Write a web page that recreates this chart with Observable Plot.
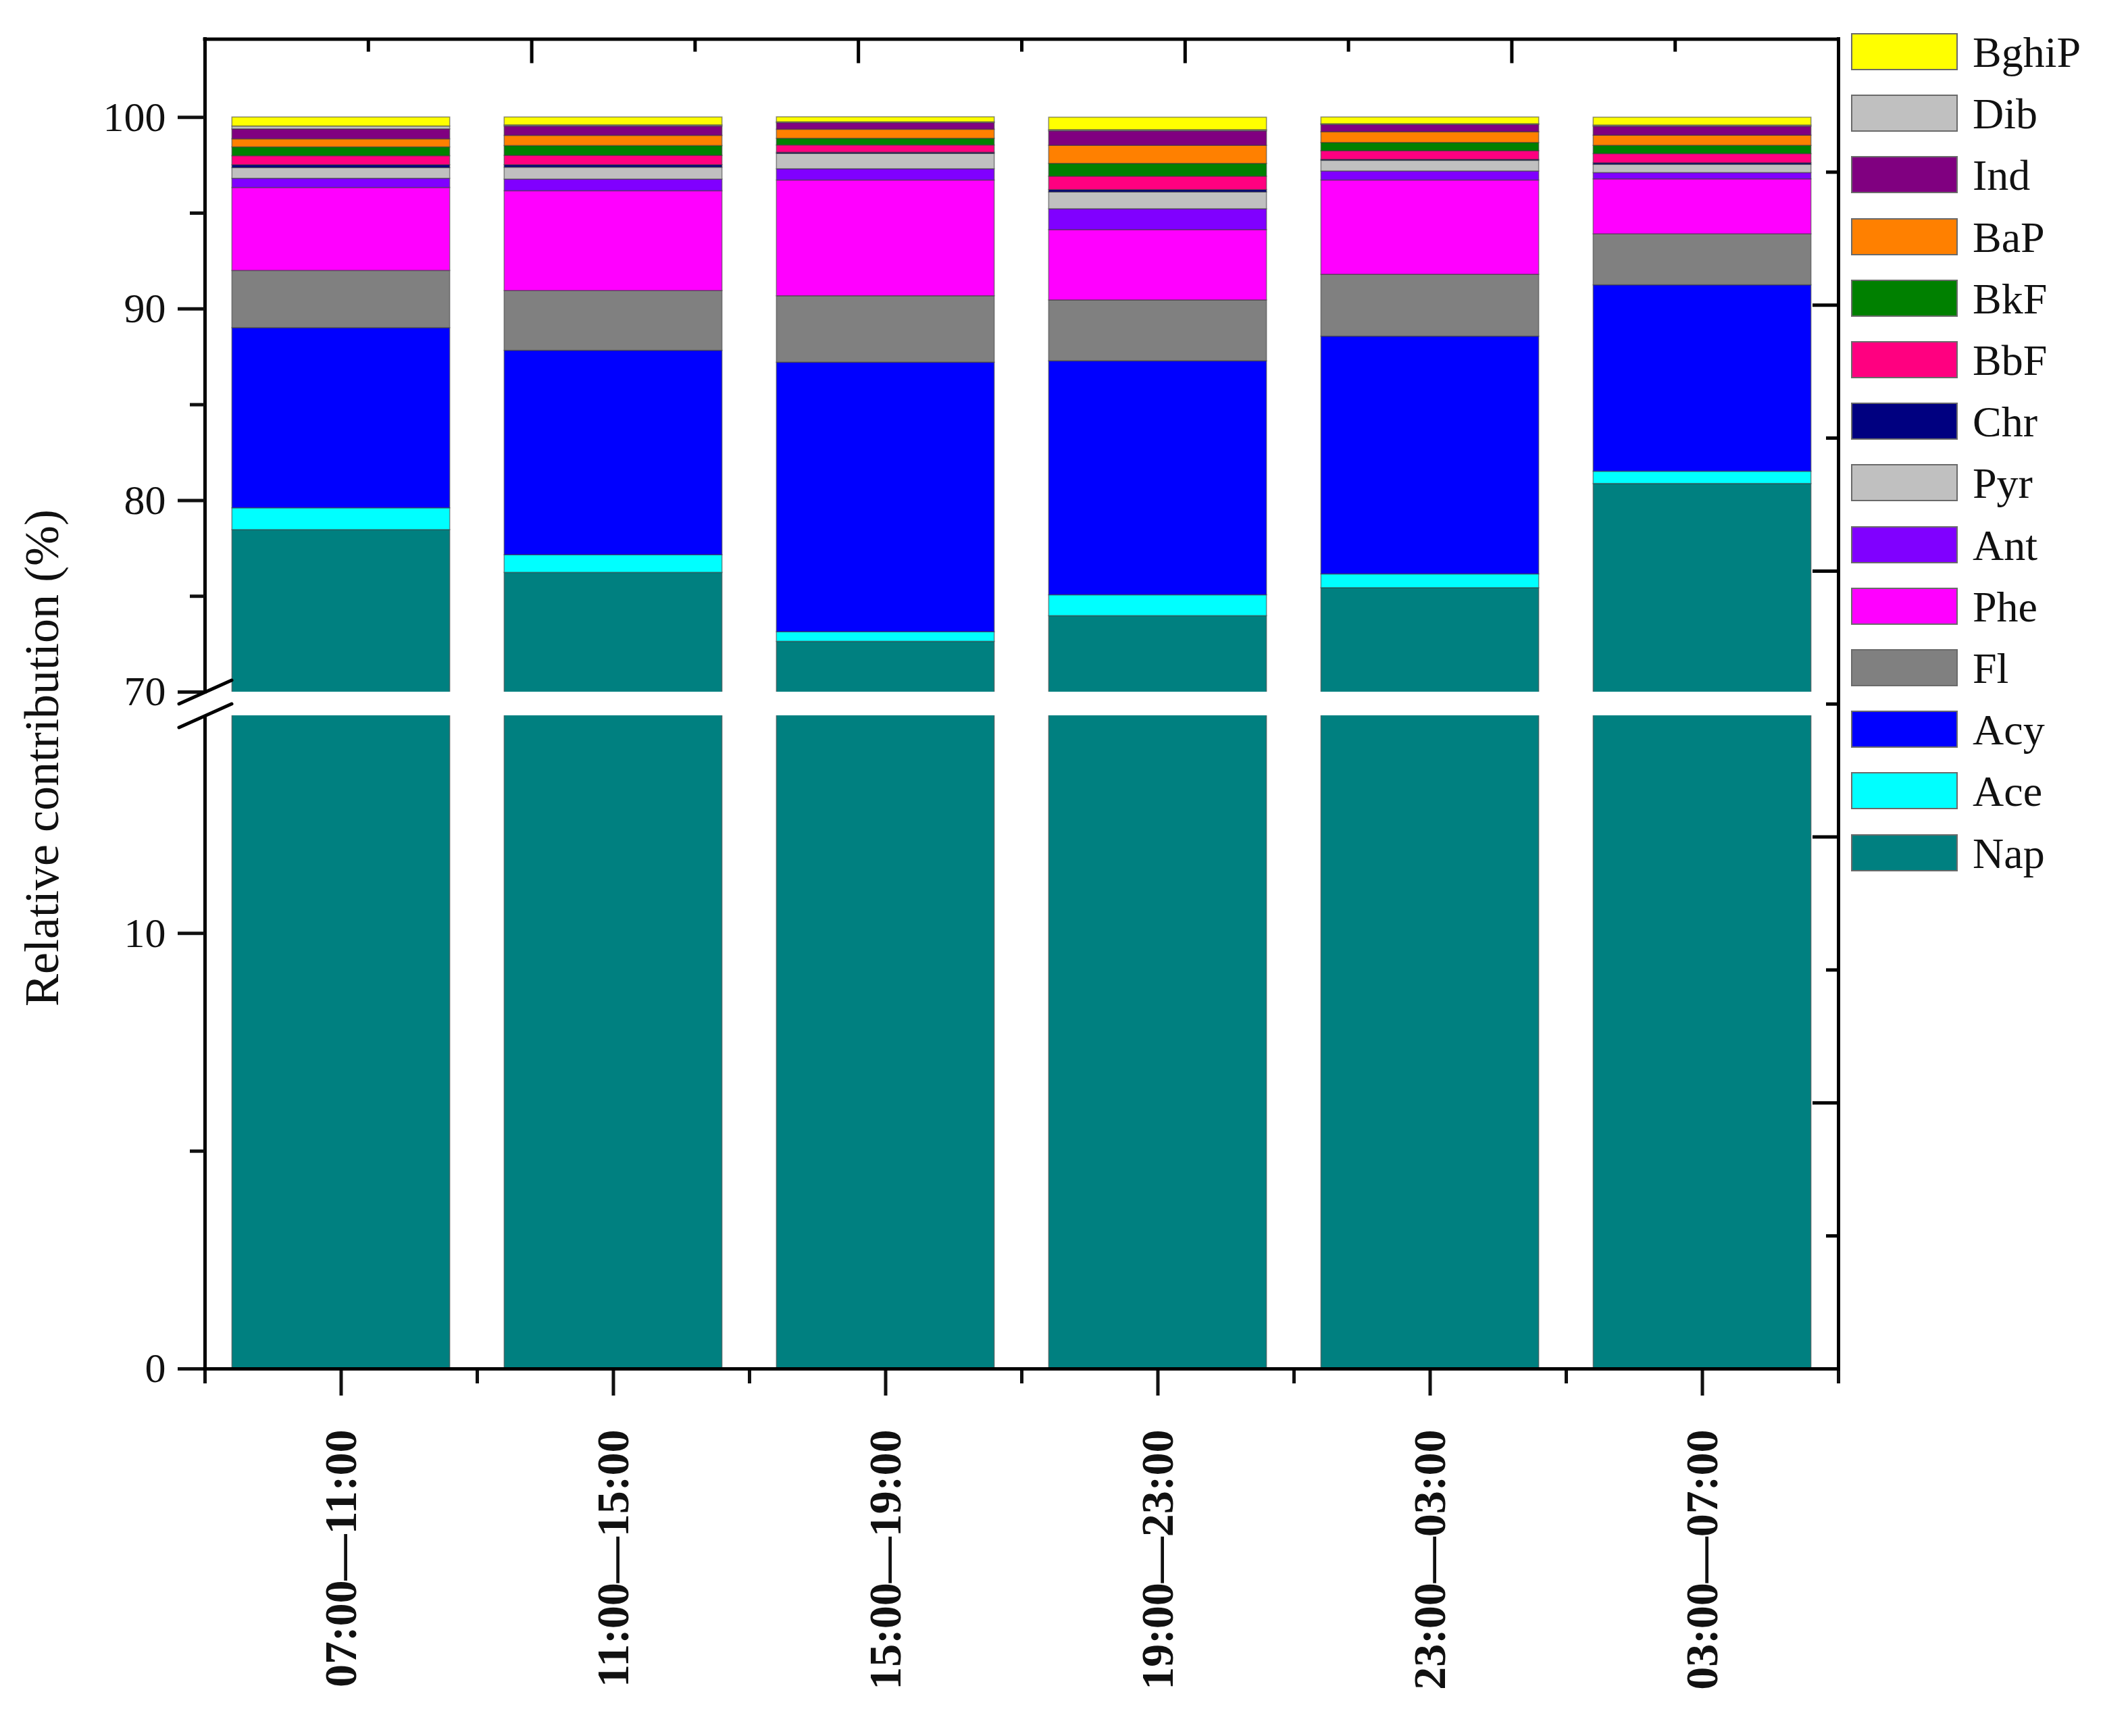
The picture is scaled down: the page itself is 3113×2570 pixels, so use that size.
<!DOCTYPE html>
<html>
<head>
<meta charset="utf-8">
<script src="https://cdn.jsdelivr.net/npm/d3@7"></script>
<script src="https://cdn.jsdelivr.net/npm/@observablehq/plot@0.6"></script>
<style>
  html, body { margin: 0; padding: 0; background: white; }
  #wrap { position: relative; width: 3113px; height: 2570px; font-family: "Liberation Serif", serif; }
  #wrap svg { position: absolute; left: 0; top: 0; }
  #ytitle { position: absolute; left: 62px; top: 1122px; transform: translate(-50%, -50%) rotate(-90deg); white-space: nowrap; font-size: 72px; color: #111; }
  .leg-sw { position: absolute; width: 158px; height: 55px; border: 2px solid #6a6a6a; box-sizing: border-box; }
  .leg-tx { position: absolute; font-size: 64px; line-height: 57px; color: #111; }
</style>
</head>
<body>
<div id="wrap"></div>
<script>
// ---- data ----
const categories = ["07:00\u201411:00", "11:00\u201415:00", "15:00\u201419:00", "19:00\u201423:00", "23:00\u201403:00", "03:00\u201407:00"];
const series = ["Nap", "Ace", "Acy", "Fl", "Phe", "Ant", "Pyr", "Chr", "BbF", "BkF", "BaP", "Ind", "Dib", "BghiP"];
const colors = ["#008080", "#00FFFF", "#0000FF", "#808080", "#FF00FF", "#8000FF", "#C0C0C0", "#000080", "#FF0080", "#008000", "#FF8000", "#800080", "#C0C0C0", "#FFFF00"];

const Nap   = [78.46, 76.23, 72.63, 73.97, 75.43, 80.87];
const Ace   = [1.14, 0.92, 0.50, 1.09, 0.72, 0.64];
const Acy   = [9.40, 10.67, 14.07, 12.21, 12.41, 9.73];
const Fl    = [2.99, 3.12, 3.47, 3.18, 3.23, 2.66];
const Phe   = [4.33, 5.21, 6.04, 3.67, 4.92, 2.87];
const Ant   = [0.48, 0.61, 0.59, 1.09, 0.47, 0.33];
const Pyr   = [0.56, 0.62, 0.80, 0.88, 0.56, 0.43];
const Chr   = [0.15, 0.13, 0.06, 0.12, 0.05, 0.08];
const BbF   = [0.47, 0.49, 0.38, 0.70, 0.45, 0.48];
const BkF   = [0.46, 0.51, 0.35, 0.67, 0.43, 0.43];
const BaP   = [0.42, 0.53, 0.47, 0.94, 0.56, 0.53];
const Ind   = [0.52, 0.49, 0.35, 0.76, 0.38, 0.47];
const Dib   = [0.15, 0.06, 0.04, 0.06, 0.04, 0.06];
const BghiP = [0.47, 0.41, 0.26, 0.65, 0.35, 0.41];

const yMajorTicks = [0, 10, 70, 80, 90, 100];
const yMinorTicks = [5, 75, 85, 95];
const topTicksMajor = [2, 4, 6, 8];
const topTicksMinor = [1, 3, 5, 7, 9];
const rightTicksMajor = [2, 4, 6, 8];
const rightTicksMinor = [1, 3, 5, 7, 9];

// ---- table built from the arrays ----
const valuesBySeries = {Nap, Ace, Acy, Fl, Phe, Ant, Pyr, Chr, BbF, BkF, BaP, Ind, Dib, BghiP};
const rows = [];
categories.forEach((c, i) => {
  let acc = 0;
  series.forEach(s => {
    const v = valuesBySeries[s][i];
    rows.push({idx: i + 1, cat: c, series: s, y1: acc, y2: acc + v});
    acc += v;
  });
});

// ---- layout ----
const W = 3113, H = 2570;
const mL = 303, mR = 392, mT = 57.5, mB = 544;
const frameW = W - mL - mR, frameH = H - mT - mB;
const yTop = 104.08;

const breakMarks = (index, scales) => {
  const g = d3.create("svg:g").attr("stroke", "black").attr("stroke-width", 5).attr("stroke-linecap", "round");
  const x0 = scales.x(0.5);
  for (const v of [70, 15]) {
    const y0 = scales.y(v);
    g.append("line").attr("x1", x0 - 38).attr("y1", y0 + 18).attr("x2", x0 + 40).attr("y2", y0 - 17);
  }
  return g.node();
};

const main = Plot.plot({
  width: W, height: H,
  marginLeft: mL, marginRight: mR, marginTop: mT, marginBottom: mB,
  style: {fontFamily: "Liberation Serif, serif", fontSize: "62px", background: "transparent", color: "#111"},
  x: {type: "linear", domain: [0.5, 6.5]},
  y: {type: "linear", domain: [0, 15, 70, yTop], range: [H - mB, 1059, 1024, mT]},
  color: {domain: series, range: colors},
  marks: [
    Plot.rectY(rows, {x1: d => d.idx - 0.4, x2: d => d.idx + 0.4, y1: "y1", y2: "y2", fill: "series", stroke: "#3a3a3a", strokeWidth: 1.6, strokeOpacity: 0.55}),
    Plot.rect([0], {x1: () => 0.45, x2: () => 6.5, y1: () => 15, y2: () => 70, fill: "white"}),
    Plot.ruleX([0.5], {y1: () => 0, y2: () => 15, stroke: "black", strokeWidth: 5}),
    Plot.ruleX([0.5], {y1: () => 70, y2: () => yTop, stroke: "black", strokeWidth: 5, strokeLinecap: "square"}),
    Plot.axisY(yMajorTicks, {tickSize: 40, tickPadding: 18, strokeWidth: 5, fontSize: 62, label: null}),
    Plot.axisY(yMinorTicks, {tickSize: 22, strokeWidth: 5, tickFormat: () => "", label: null}),
    Plot.axisX([1, 2, 3, 4, 5, 6], {tickSize: 40, tickPadding: 50, tickRotate: -90, strokeWidth: 5, fontSize: 68, fontWeight: "bold", tickFormat: d => categories[d - 1], label: null}),
    Plot.axisX([0.5, 1.5, 2.5, 3.5, 4.5, 5.5, 6.5], {tickSize: 22, strokeWidth: 5, tickFormat: () => "", label: null}),
    breakMarks
  ]
});

const frame = Plot.plot({
  width: W, height: H,
  marginLeft: mL, marginRight: mR, marginTop: mT, marginBottom: mB,
  style: {background: "transparent"},
  x: {domain: [0, 10], axis: null},
  y: {domain: [0, 10], axis: null},
  marks: [
    Plot.ruleY([0, 10], {stroke: "black", strokeWidth: 5, strokeLinecap: "square"}),
    Plot.ruleX([10], {stroke: "black", strokeWidth: 5, strokeLinecap: "square"}),
    Plot.ruleX(topTicksMajor, {insetBottom: frameH - 36, stroke: "black", strokeWidth: 5}),
    Plot.ruleX(topTicksMinor, {insetBottom: frameH - 19, stroke: "black", strokeWidth: 5}),
    Plot.ruleY(rightTicksMajor, {insetLeft: frameW - 38, stroke: "black", strokeWidth: 5}),
    Plot.ruleY(rightTicksMinor, {insetLeft: frameW - 18, stroke: "black", strokeWidth: 5})
  ]
});

const wrap = document.getElementById("wrap");
wrap.appendChild(main);
wrap.appendChild(frame);

const yt = document.createElement("div");
yt.id = "ytitle";
yt.textContent = "Relative contribution (%)";
wrap.appendChild(yt);

// legend (top entry = last series)
const legendOrder = series.slice().reverse();
const legendColors = colors.slice().reverse();
legendOrder.forEach((s, i) => {
  const top = 49 + i * 91.2;
  const sw = document.createElement("div");
  sw.className = "leg-sw";
  sw.style.left = "2740px";
  sw.style.top = top + "px";
  sw.style.background = legendColors[i];
  wrap.appendChild(sw);
  const tx = document.createElement("div");
  tx.className = "leg-tx";
  tx.style.left = "2920px";
  tx.style.top = top + "px";
  tx.textContent = s;
  wrap.appendChild(tx);
});
</script>
</body>
</html>
